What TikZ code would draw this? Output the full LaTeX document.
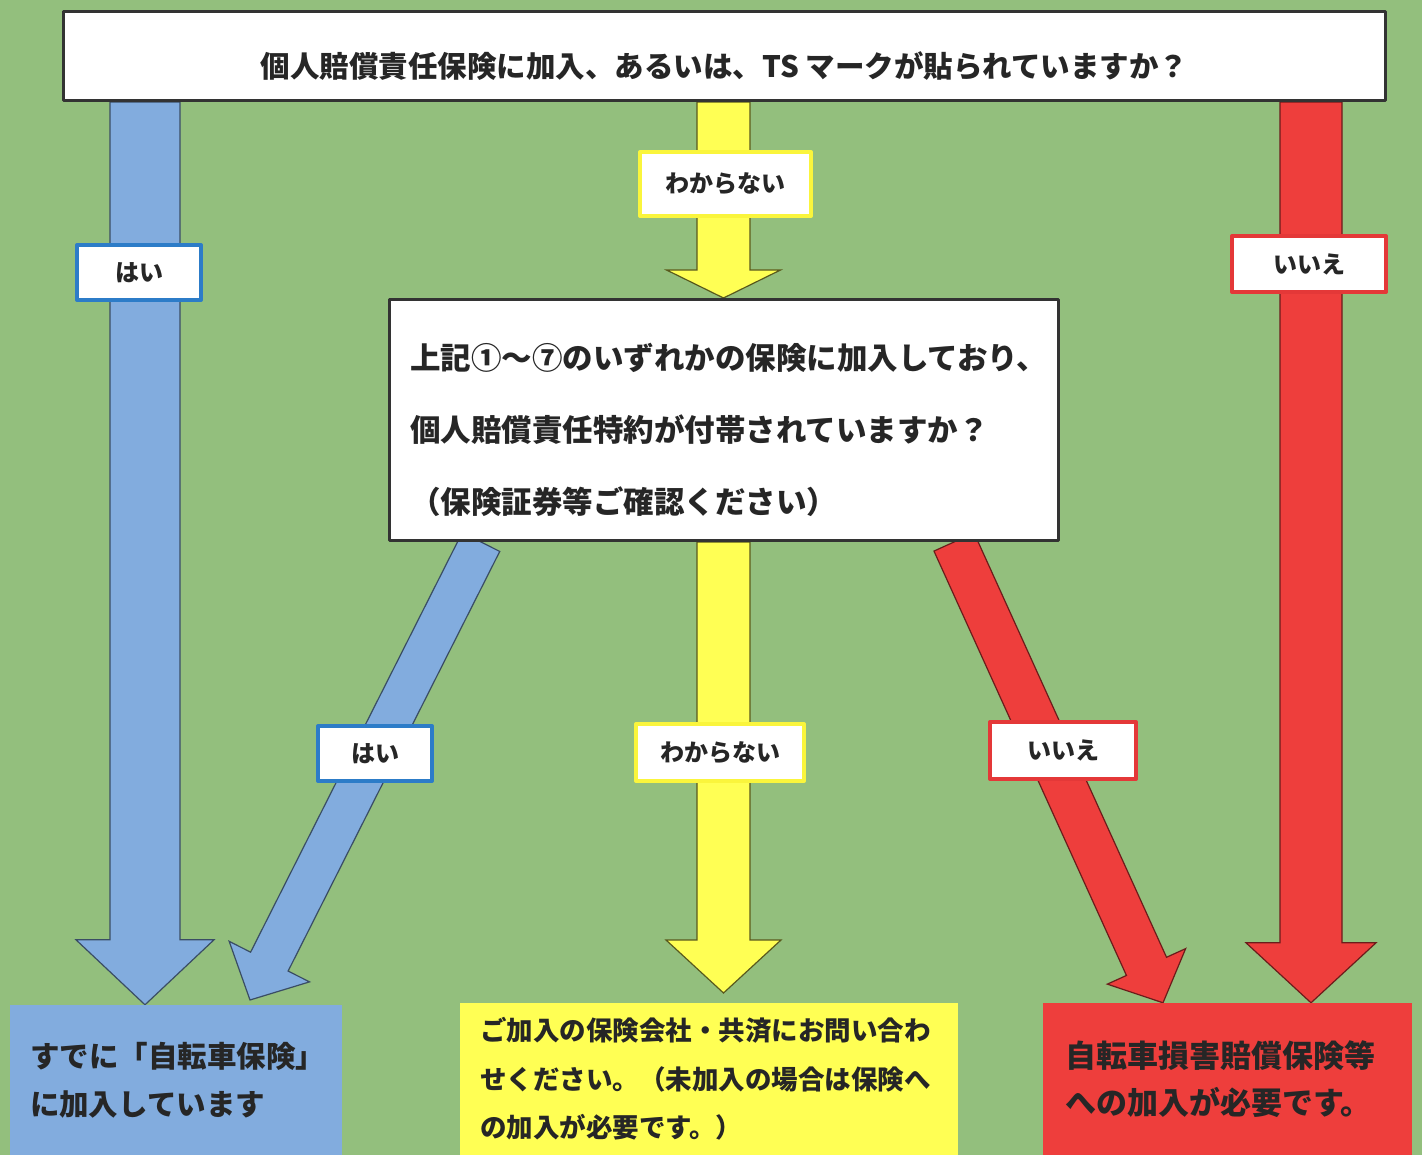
\documentclass[tikz,border=0pt]{standalone}
\usepackage{fontspec}
\setmainfont{Noto Sans CJK JP}
\usetikzlibrary{calc,backgrounds}
\definecolor{bggreen}{RGB}{147,191,125}
\definecolor{ansblue}{RGB}{130,172,222}
\definecolor{ansyellow}{RGB}{255,255,84}
\definecolor{ansred}{RGB}{238,62,60}
\definecolor{lblblue}{RGB}{44,124,200}
\definecolor{lblyellow}{RGB}{250,245,60}
\definecolor{lblred}{RGB}{228,56,56}
\newcommand{\blockarrow}[6]{%
  \coordinate (bh) at ($(#3)!#6pt!(#2)$);
  \filldraw[#1] ($(#2)!#4pt!90:(#3)$) -- ($(bh)!#4pt!90:(#3)$) -- ($(bh)!#5pt!90:(#3)$) -- (#3)
    -- ($(bh)!#5pt!-90:(#3)$) -- ($(bh)!#4pt!-90:(#3)$) -- ($(#2)!#4pt!-90:(#3)$) -- cycle;
}
\begin{document}
\begin{tikzpicture}[x=1pt,y=-1pt,line join=round,
  qbox/.style={draw=black!80,line width=3pt,fill=white,inner sep=0pt,text=black!85},
  lbl/.style={fill=white,line width=4pt,inner sep=0pt,text=black!85,font=\fontsize{24pt}{24pt}\selectfont\bfseries},
  resbox/.style={inner sep=0pt,align=left,text=black!85},
  arrblue/.style={fill=ansblue,draw=ansblue!45!black,line width=1.2pt},
  arryellow/.style={fill=ansyellow,draw=ansyellow!35!black,line width=1.2pt},
  arrred/.style={fill=ansred,draw=ansred!45!black,line width=1.2pt}]
	\useasboundingbox (0,0) rectangle (1422,1155);
	\node[qbox,minimum width=1322,minimum height=89,text height=43pt,text depth=0pt,font=\fontsize{29.5pt}{29.5pt}\selectfont\bfseries] (q1) at (724.5,56) {個人賠償責任保険に加入、あるいは、TS マークが貼られていますか？};
	\node[qbox,minimum width=669,minimum height=241,text width=628,align=left,font=\fontsize{30.5pt}{72pt}\selectfont\bfseries] (q2) at (724,420) {\rule{0pt}{47pt}上記①～⑦のいずれかの保険に加入しており、\\個人賠償責任特約が付帯されていますか？\\（保険証券等ご確認ください）};
	\node[resbox,fill=ansblue,minimum width=332,minimum height=150,text width=292,font=\fontsize{29.5pt}{48pt}\selectfont\bfseries] (res1) at (176,1080) {すでに「自転車保険」\\に加入しています};
	\node[resbox,fill=ansyellow,minimum width=498,minimum height=152,text width=458,font=\fontsize{26.5pt}{48.5pt}\selectfont\bfseries] (res2) at (709,1079) {ご加入の保険会社・共済にお問い合わ\\せください。（未加入の場合は保険へ\\の加入が必要です。）};
	\node[resbox,fill=ansred,minimum width=369,minimum height=152,text width=325,font=\fontsize{31pt}{47pt}\selectfont\bfseries] (res3) at (1227.5,1079) {自転車損害賠償保険等\\への加入が必要です。};
	\coordinate (yes1a) at (145,0 |- q1.south);
	\coordinate (yes1b) at (145,0 |- res1.north);
	\coordinate (unk1a) at (723.5,0 |- q1.south);
	\coordinate (unk1b) at (723.5,0 |- q2.north);
	\coordinate (no1a) at (1311,0 |- q1.south);
	\coordinate (no1b) at (1311,0 |- res3.north);
	\coordinate (yes2a) at (481,0 |- q2.south);
	\coordinate (yes2b) at (250,1000);
	\coordinate (unk2a) at (723.5,0 |- q2.south);
	\coordinate (unk2b) at (723.5,993);
	\coordinate (no2a) at (954,0 |- q2.south);
	\coordinate (no2b) at (1163,0 |- res3.north);
	\begin{scope}[on background layer]
	\fill[bggreen] (0,0) rectangle (1422,1155);
	\blockarrow{arrblue}{yes1a}{yes1b}{35}{69}{65}
	\blockarrow{arryellow}{unk1a}{unk1b}{26.5}{57}{28}
	\blockarrow{arrred}{no1a}{no1b}{31}{65}{60}
	\blockarrow{arrblue}{yes2a}{yes2b}{21}{45}{43}
	\blockarrow{arryellow}{unk2a}{unk2b}{26.5}{57.5}{53}
	\blockarrow{arrred}{no2a}{no2b}{22}{43}{40}
	\end{scope}
	\node[lbl,draw=lblblue,minimum width=124,minimum height=55] (lyes1) at (139,272.5) {はい};
	\node[lbl,draw=lblyellow,minimum width=171,minimum height=64] (lunk1) at (725.5,184) {わからない};
	\node[lbl,draw=lblred,minimum width=154,minimum height=56] (lno1) at (1309,264) {いいえ};
	\node[lbl,draw=lblblue,minimum width=114,minimum height=55] (lyes2) at (375,753.5) {はい};
	\node[lbl,draw=lblyellow,minimum width=168,minimum height=57] (lunk2) at (720,752.5) {わからない};
	\node[lbl,draw=lblred,minimum width=146,minimum height=57] (lno2) at (1063,750.5) {いいえ};
\end{tikzpicture}
\end{document}
